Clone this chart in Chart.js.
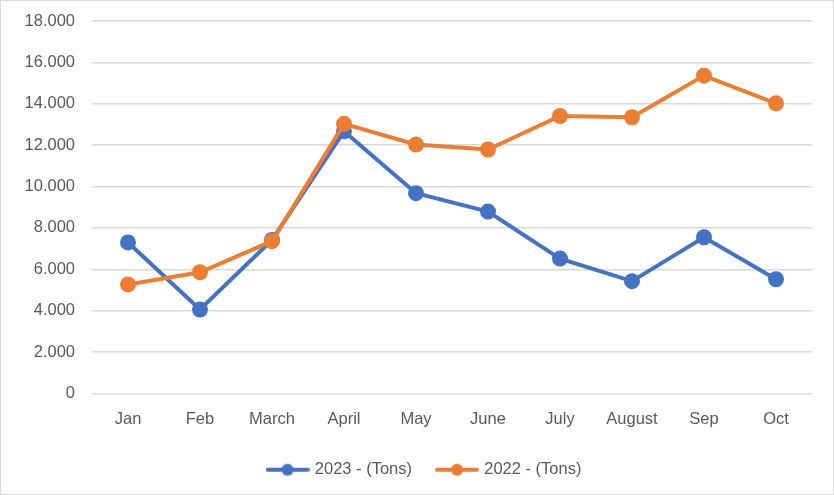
<!DOCTYPE html>
<html>
<head>
<meta charset="utf-8">
<script src="https://cdn.jsdelivr.net/npm/chart.js@4/dist/chart.umd.min.js"></script>
<style>
html,body{margin:0;padding:0;background:#fff;}
#wrap{width:834px;height:495px;position:relative;}
</style>
</head>
<body>
<div id="wrap"><canvas id="c" width="834" height="495"></canvas></div>
<script>
const categories = ["Jan","Feb","March","April","May","June","July","August","Sep","Oct"];
const series2023 = [7300,4060,7420,12670,9680,8790,6520,5430,7550,5520];
const series2022 = [5270,5860,7360,13030,12030,11790,13410,13350,15360,14020];
const seriesNames = ["2023 - (Tons)","2022 - (Tons)"];
const yMin = 0, yMax = 18000, yStep = 2000;

const BLUE = "#4472C4", ORANGE = "#ED7D31", TEXT = "#595959", GRID = "#d9d9d9";
const FONT = "'Liberation Sans', Arial, sans-serif";

function legendMarker(color){
  const c = document.createElement('canvas');
  c.width = 44; c.height = 14;
  const x = c.getContext('2d');
  x.strokeStyle = color; x.lineWidth = 4; x.lineCap = 'round';
  x.beginPath(); x.moveTo(2,7); x.lineTo(42,7); x.stroke();
  x.fillStyle = color; x.beginPath(); x.arc(22,7,6,0,Math.PI*2); x.fill();
  return c;
}
function fmt(v){ return String(v).replace(/\B(?=(\d{3})+(?!\d))/g,'.'); }

const borderPlugin = {
  id:'outerBorder',
  afterLayout(chart){
    const lg = chart.legend;
    if (lg) { lg.left += 19; lg.right += 19; }
  },
  afterDraw(chart){
    const ctx = chart.ctx;
    ctx.save(); ctx.strokeStyle = GRID; ctx.lineWidth = 1;
    ctx.strokeRect(0.5,0.5,chart.width-1,chart.height-1); ctx.restore();
  }
};

new Chart(document.getElementById('c'), {
  type:'line',
  data:{
    labels: categories,
    datasets:[
      {label:seriesNames[0], data:series2023, borderColor:BLUE, backgroundColor:BLUE,
       pointBackgroundColor:BLUE, pointBorderColor:BLUE, borderWidth:4, pointRadius:6,
       pointStyle:'circle', order:1, tension:0},
      {label:seriesNames[1], data:series2022, borderColor:ORANGE, backgroundColor:ORANGE,
       pointBackgroundColor:ORANGE, pointBorderColor:ORANGE, borderWidth:4, pointRadius:6,
       pointStyle:'circle', order:0, tension:0}
    ]
  },
  options:{
    responsive:false, animation:false, devicePixelRatio:1,
    layout:{padding:{top:21,right:22,bottom:7,left:0}},
    plugins:{
      tooltip:{enabled:false},
      legend:{
        position:'bottom',
        labels:{
          color:TEXT, font:{family:FONT,size:16.5},
          usePointStyle:true, pointStyleWidth:38, boxHeight:14, padding:26,
          sort:(a,b)=>a.datasetIndex-b.datasetIndex,
          generateLabels(chart){
            return chart.data.datasets.map((d,i)=>({
              text:d.label, fillStyle:d.borderColor, strokeStyle:d.borderColor,
              fontColor:TEXT, lineWidth:0, hidden:false, datasetIndex:i,
              pointStyle:legendMarker(d.borderColor)
            }));
          }
        }
      }
    },
    scales:{
      x:{
        offset:true,
        grid:{display:false}, border:{display:false},
        ticks:{color:TEXT, font:{family:FONT,size:16.5}, padding:8, maxRotation:0},
        afterFit(s){ s.height = 42; }
      },
      y:{
        min:yMin, max:yMax,
        grid:{color:GRID, lineWidth:1.5, drawTicks:false}, border:{display:false},
        ticks:{stepSize:yStep, color:TEXT, font:{family:FONT,size:16.5}, padding:17,
               callback:(v)=>fmt(v)},
        afterFit(s){ s.width = 92; s.paddingTop = 0; }
      }
    }
  },
  plugins:[borderPlugin]
});
</script>
</body>
</html>
